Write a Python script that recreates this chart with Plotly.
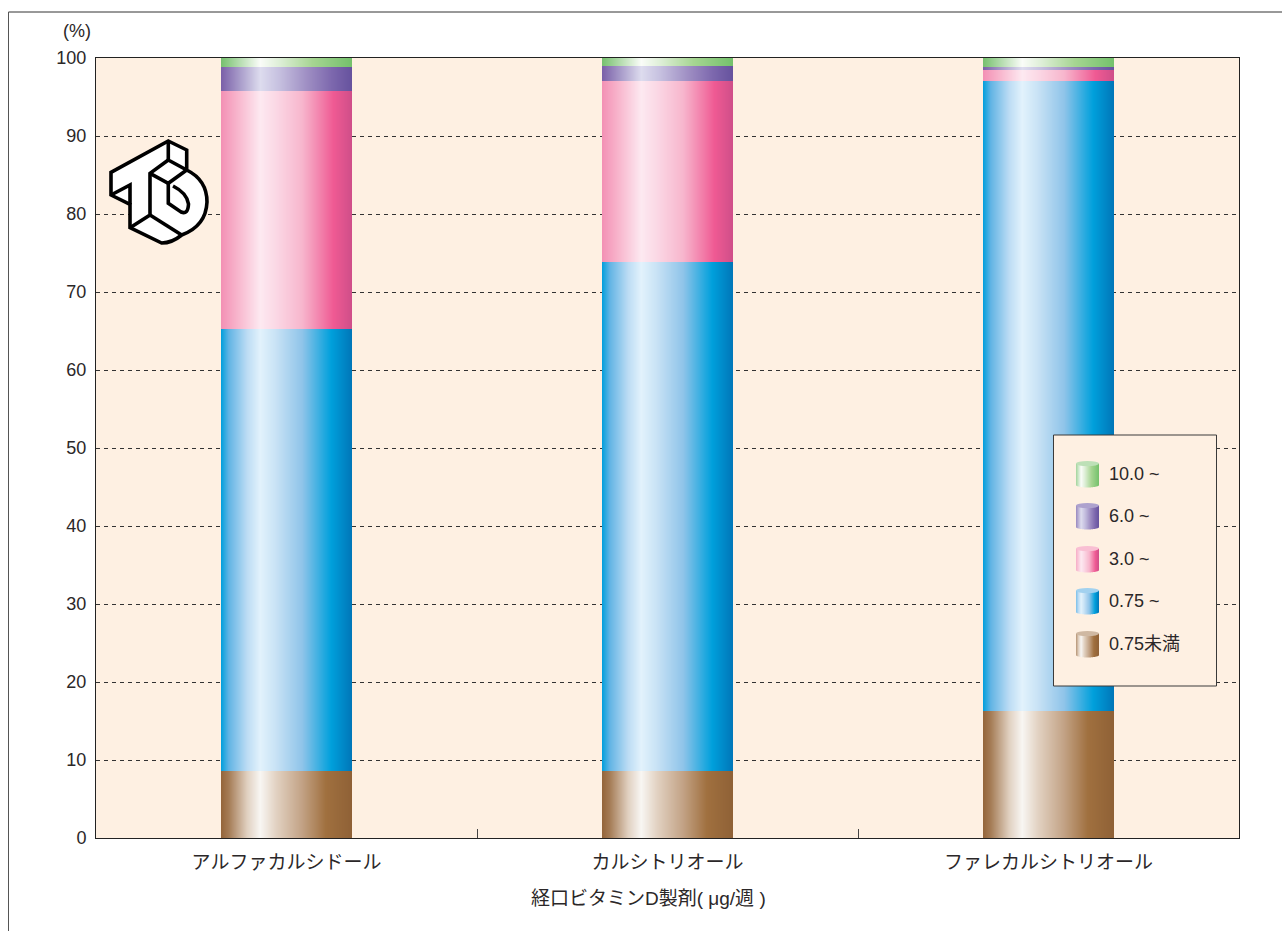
import math
import plotly.graph_objects as go

drugs = ["アルファカルシドール", "カルシトリオール", "ファレカルシトリオール"]
under_075 = [8.6, 8.6, 16.3]
from_075 = [56.6, 65.3, 80.7]
from_30 = [30.6, 23.1, 1.5]
from_60 = [3.1, 2.0, 0.4]
from_100 = [1.1, 1.0, 1.1]
y_ticks = [0, 10, 20, 30, 40, 50, 60, 70, 80, 90, 100]
x_title = "経口ビタミンD製剤( μg/週 )"
unit_label = "(%)"
series_names = ["0.75未満", "0.75 ~", "3.0 ~", "6.0 ~", "10.0 ~"]
series_values = [under_075, from_075, from_30, from_60, from_100]

W, H = 1282, 931
L, R, T, B = 96, 1239, 58, 838
FONT = "Liberation Sans, Arial, Noto Sans CJK JP, sans-serif"
INK = "#2b2728"
PANEL = "#fef0e2"
BAR_WIDTH = 131 / 381
SLICES = 131

gradients = [
    [(0, "#94643a"), (.06, "#a57c56"), (.2, "#e0d0c0"), (.3, "#f8f6f3"), (.42, "#e2d2c2"), (.62, "#c2a285"), (.8, "#a0703f"), (1, "#8f6136")],
    [(0, "#009fdc"), (.06, "#62b4e4"), (.2, "#bcdcf4"), (.3, "#e2f2fc"), (.42, "#c8e2f5"), (.62, "#8fc4e9"), (.84, "#00a0dc"), (1, "#0076b8")],
    [(0, "#f390b4"), (.14, "#f8b9cf"), (.3, "#fde9f1"), (.42, "#fbd8e5"), (.62, "#f7b6cd"), (.86, "#ef5a93"), (1, "#cf4e89")],
    [(0, "#7a5fa8"), (.14, "#a79ac9"), (.3, "#dddcee"), (.45, "#c5bfdf"), (.65, "#a090c4"), (.85, "#7c67ad"), (1, "#66529e")],
    [(0, "#76c06e"), (.14, "#b4dcae"), (.3, "#fafcf8"), (.45, "#ddeed6"), (.7, "#a6d592"), (1, "#74c16c")],
]


def grad(stops, u):
    for (a, ca), (b, cb) in zip(stops, stops[1:]):
        if u <= b:
            t = (u - a) / (b - a)
            c0 = [int(ca[i:i + 2], 16) for i in (1, 3, 5)]
            c1 = [int(cb[i:i + 2], 16) for i in (1, 3, 5)]
            return "#%02x%02x%02x" % tuple(round(p + (q - p) * t) for p, q in zip(c0, c1))
    return stops[-1][1]


def px(x):
    return (x - L) / (R - L)


def py(y):
    return (B - y) / (B - T)


fig = go.Figure()
for name, vals, stops in zip(series_names, series_values, gradients):
    xs, ys, cs = [], [], []
    for i, v in enumerate(vals):
        for k in range(SLICES):
            u = (k + .5) / SLICES
            xs.append(i + (u - .5) * BAR_WIDTH)
            ys.append(v)
            cs.append(grad(stops, u))
    fig.add_trace(go.Bar(x=xs, y=ys, name=name, width=BAR_WIDTH / SLICES, showlegend=False,
                         hoverinfo="skip", marker=dict(color=cs, line=dict(width=0))))

shapes = []
# page frame
shapes.append(dict(type="line", xref="paper", yref="paper", x0=px(8.5), x1=px(W), y0=py(12), y1=py(12),
                   line=dict(color="#333", width=1)))
shapes.append(dict(type="line", xref="paper", yref="paper", x0=px(8.5), x1=px(8.5), y0=py(12), y1=py(H),
                   line=dict(color="#555", width=1)))
# legend box
shapes.append(dict(type="rect", xref="paper", yref="paper", x0=px(1053.5), x1=px(1216.5), y0=py(435), y1=py(686),
                   fillcolor=PANEL, line=dict(color="#3a3a3a", width=1)))


def pts(*p):
    return " ".join(f"{c}{px(x):.5f},{py(y):.5f}" for c, x, y in p)


def logo_path(d):
    return dict(type="path", xref="paper", yref="paper", path=d, fillcolor="white",
                line=dict(color="black", width=3.6))


outer = pts(("M", 168.3, 141), ("L", 186.7, 150), ("L", 186.7, 170)) + " " + \
    f"Q{px(207):.5f},{py(180):.5f} {px(207):.5f},{py(202):.5f} " + \
    f"Q{px(206):.5f},{py(226):.5f} {px(181.7):.5f},{py(235):.5f} " + \
    f"Q{px(172):.5f},{py(243):.5f} {px(161.7):.5f},{py(243):.5f} " + \
    pts(("L", 130, 227.7), ("L", 130, 204.3), ("L", 111, 195), ("L", 111, 172.3)) + " Z"
hole = pts(("M", 168.3, 183.3), ("L", 168.3, 203.3), ("L", 181, 212)) + " " + \
    f"Q{px(188):.5f},{py(215):.5f} {px(188.5):.5f},{py(204):.5f} " + \
    f"Q{px(187):.5f},{py(193):.5f} {px(173):.5f},{py(186):.5f}"
shapes.append(logo_path(outer))
for d in [
    pts(("M", 168.3, 141), ("L", 168.3, 160), ("L", 186.7, 170)),
    pts(("M", 168.3, 160), ("L", 150, 173.3), ("L", 150, 215), ("L", 130, 227.7)),
    pts(("M", 150, 173.3), ("L", 168.3, 183.3), ("L", 186.7, 170)),
    pts(("M", 150, 215), ("L", 181.7, 235)),
    pts(("M", 111, 195), ("L", 130, 185), ("L", 130, 204.3)),
    hole,
]:
    shapes.append(dict(type="path", xref="paper", yref="paper", path=d, line=dict(color="black", width=3.6)))

# legend cylinders and labels
annotations = []
icon_tops = [631, 588, 546, 503, 461]
for name, stops, top in zip(series_names, gradients, icon_tops):
    bot = top + 26.5
    for k in range(23):
        u = (k + .5) / 23
        dy = 2.6 * math.sqrt(max(0, 1 - (2 * u - 1) ** 2))
        shapes.append(dict(type="rect", xref="paper", yref="paper", x0=px(1076 + k), x1=px(1077 + k),
                           y0=py(top + 2.6), y1=py(bot - 2.6 + dy), fillcolor=grad(stops, .1 + .9 * u), line=dict(width=0)))
    top_col = grad(stops, .16)
    shapes.append(dict(type="circle", xref="paper", yref="paper", x0=px(1076), x1=px(1099),
                       y0=py(top), y1=py(top + 5.2), fillcolor=top_col, line=dict(width=0)))
    annotations.append(dict(xref="paper", yref="paper", x=px(1106.5), y=py(top + 13), text=name, showarrow=False,
                            xanchor="left", yanchor="middle", font=dict(size=18, color=INK, family=FONT)))
annotations.append(dict(xref="paper", yref="paper", x=px(76.5), y=py(31), text=unit_label, showarrow=False,
                        xanchor="center", yanchor="middle", font=dict(size=18, color=INK, family=FONT)))
annotations.append(dict(xref="paper", yref="paper", x=px(648.5), y=py(898), text=x_title, showarrow=False,
                        xanchor="center", yanchor="middle", font=dict(size=19, color=INK, family=FONT)))

fig.update_layout(
    width=W, height=H, barmode="stack", bargap=0,
    margin=dict(l=L, r=W - R, t=T, b=H - B, pad=0),
    paper_bgcolor="white", plot_bgcolor=PANEL,
    shapes=shapes, annotations=annotations, showlegend=False,
    font=dict(family=FONT, color=INK, size=18),
    xaxis=dict(range=[-.5, 2.5], tickvals=[0, 1, 2], ticktext=drugs, ticks="", showgrid=False, zeroline=False,
               showline=True, mirror=True, linecolor="#222", linewidth=1, ticklabelstandoff=7,
               layer="below traces", tickfont=dict(size=19, color=INK, family=FONT),
               minor=dict(tickvals=[.5, 1.5], ticks="inside", ticklen=9, tickcolor="#444", tickwidth=1)),
    yaxis=dict(range=[0, 100], tickvals=y_ticks, ticks="", zeroline=False, showline=True, mirror=True,
               linecolor="#222", linewidth=1, showgrid=True, gridcolor="#333", griddash="4px,4px", gridwidth=1,
               ticklabelstandoff=5, layer="below traces", tickfont=dict(size=18, color=INK, family=FONT)),
)
fig.write_html("out.html", config=dict(displayModeBar=False),
               post_script="document.body.style.margin='0';document.body.style.overflow='hidden';")
